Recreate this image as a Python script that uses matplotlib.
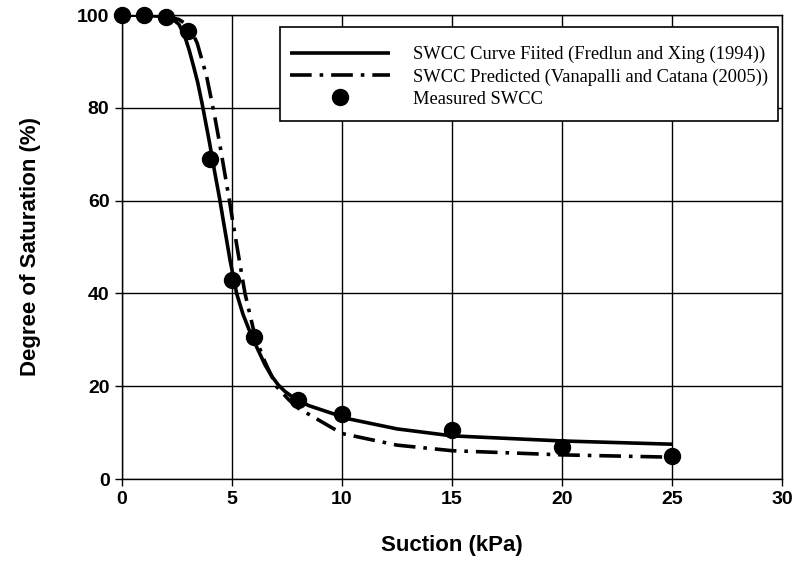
import numpy as np
import matplotlib
matplotlib.use('Agg')
from matplotlib import pyplot as plt
from matplotlib.patches import Rectangle

# measured points
meas_x = [0, 1, 2, 3, 4, 5, 6, 8, 10, 15, 20, 25]
meas_y = [100, 100, 99.5, 96.5, 69, 42.8, 30.5, 17.1, 14.1, 10.6, 7.0, 5.0]

# fitted curve (Fredlund and Xing)
fit_x = [0, 1, 2, 2.3, 2.59, 2.86, 3.05, 3.25, 3.44, 3.65, 3.97, 4.2, 4.45, 4.6,
         4.91, 5.21, 5.5, 5.9, 6.5, 6.8, 7.1, 7.4, 7.86, 8.5, 9.45, 10.36,
         12.5, 15, 20, 25]
fit_y = [100, 100, 99.6, 99.1, 98.0, 95.3, 92.5, 89.0, 85.5, 80.7, 72.7, 66.5, 60.1, 55.8,
         47.2, 40.0, 35.5, 30.7, 24.6, 22.2, 20.3, 18.9, 17.3, 15.8, 14.3, 12.9,
         10.8, 9.3, 8.2, 7.5]

# predicted curve (Vanapalli and Catana)
pred_x = [0, 1, 2, 2.6, 3.0, 3.2, 3.42, 3.85, 4.2, 4.45, 4.88, 5.0, 5.33, 5.59,
          6.05, 6.5, 7.03, 7.6, 8.0, 9.45, 10, 12.5, 15, 20, 25]
pred_y = [100, 100, 99.8, 99.0, 97.8, 96.2, 93.9, 86.7, 78.5, 72.0, 60.1, 56.5, 47.2, 40.0,
          30.7, 25.2, 19.9, 17.0, 15.3, 11.3, 9.8, 7.3, 6.1, 5.2, 4.7]

x_ticks = [0, 5, 10, 15, 20, 25, 30]
y_ticks = [0, 20, 40, 60, 80, 100]

fig = plt.figure(figsize=(7.96, 5.61), dpi=100)
ax = fig.add_axes([122/796, 1-479/561, (782-122)/796, (479-15)/561])

ax.grid(True, color='black', linewidth=1.0)
ax.set_axisbelow(True)

ax.plot(fit_x, fit_y, color='black', linewidth=2.6, solid_capstyle='butt',
        solid_joinstyle='round',
        label='SWCC Curve Fiited (Fredlun and Xing (1994))', zorder=3)
ax.plot(pred_x, pred_y, color='black', linewidth=2.6,
        dashes=(6, 2.2, 1, 2.2),
        label='SWCC Predicted (Vanapalli and Catana (2005))', zorder=3)
ax.plot(meas_x, meas_y, 'o', color='black', markersize=11.5, linestyle='none',
        label='Measured SWCC', zorder=4, clip_on=False)

ax.set_xlim(0, 30)
ax.set_ylim(0, 100)
ax.set_xticks(x_ticks)
ax.set_yticks(y_ticks)
for s in ax.spines.values():
    s.set_linewidth(1.0)
ax.tick_params(direction='out', length=5, width=1.0, labelsize=14, pad=4)
for lbl in ax.get_xticklabels() + ax.get_yticklabels():
    lbl.set_fontweight('bold')
    lbl.set_fontfamily('Liberation Sans')

ax.set_xlabel('Suction (kPa)', fontsize=16, fontweight='bold',
              fontfamily='Liberation Sans', labelpad=19)
ax.set_ylabel('Degree of Saturation (%)', fontsize=16, fontweight='bold',
              fontfamily='Liberation Sans', labelpad=26)

# legend box drawn separately
ax.add_patch(Rectangle((280/796, 1-121/561), (778-280)/796, (121-27)/561,
                       transform=fig.transFigure, facecolor='white',
                       edgecolor='black', linewidth=1.2, zorder=5, clip_on=False))

leg = ax.legend(loc='upper left', bbox_to_anchor=(290/796, 1-46/561),
                bbox_transform=fig.transFigure, borderaxespad=0, borderpad=0,
                prop={'family': 'Liberation Serif', 'size': 13.3},
                frameon=False, handlelength=5.4, labelspacing=0.27,
                handletextpad=1.24)
leg.set_zorder(6)

fig.savefig('out.png', dpi=100)
